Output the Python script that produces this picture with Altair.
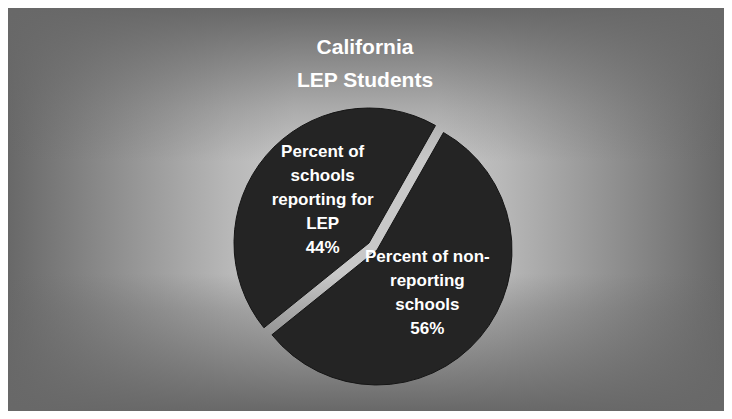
import math
import altair as alt
import pandas as pd

# ---- data ----
categories = ["Percent of non-reporting schools", "Percent of schools reporting for LEP"]
values = [56, 44]
label_lines = [["Percent of non-", "reporting", "schools"],
               ["Percent of", "schools", "reporting for", "LEP"]]
title_lines = ["California", "LEP Students"]

W, H = 716, 403
ROT = math.radians(29.5)
LH = 24

starts, ends = [], []
acc = 0
for v in values:
    starts.append(acc)
    acc += v
    ends.append(acc)

df = pd.DataFrame({
    "category": categories,
    "value": values,
    "start": starts,
    "end": ends,
    "mid": [(s + e) / 2 for s, e in zip(starts, ends)],
    "label": ["\n".join(l + [f"{v}%"]) for l, v in zip(label_lines, values)],
    "nlines": [len(l) + 1 for l in label_lines],
})

theta_scale = alt.Scale(domain=[0, 100], range=[ROT, ROT + 2 * math.pi])

# ---- background (box-like grey gradient) ----
bg_data = pd.DataFrame({"k": [0]})
h_grad = alt.Gradient(
    gradient="linear", x1=0, x2=1, y1=0, y2=0,
    stops=[
        alt.GradientStop(offset=0.0, color="#686868"),
        alt.GradientStop(offset=0.31, color="#b8b8b8"),
        alt.GradientStop(offset=0.4, color="#c8c8c8"),
        alt.GradientStop(offset=0.6, color="#c8c8c8"),
        alt.GradientStop(offset=0.69, color="#b8b8b8"),
        alt.GradientStop(offset=1.0, color="#686868"),
    ],
)
v_grad = alt.Gradient(
    gradient="linear", x1=0, x2=0, y1=0, y2=1,
    stops=[
        alt.GradientStop(offset=0.0, color="rgba(104,104,104,1)"),
        alt.GradientStop(offset=0.25, color="rgba(104,104,104,0.3)"),
        alt.GradientStop(offset=0.38, color="rgba(104,104,104,0)"),
        alt.GradientStop(offset=0.66, color="rgba(104,104,104,0)"),
        alt.GradientStop(offset=0.75, color="rgba(104,104,104,0.33)"),
        alt.GradientStop(offset=1.0, color="rgba(104,104,104,1)"),
    ],
)
bg1 = alt.Chart(bg_data).mark_rect(color=h_grad).encode(
    x=alt.value(0), x2=alt.value(W), y=alt.value(0), y2=alt.value(H))
bg2 = alt.Chart(bg_data).mark_rect(color=v_grad).encode(
    x=alt.value(0), x2=alt.value(W), y=alt.value(0), y2=alt.value(H))

# ---- pie slices (second slice exploded up-left) ----
centers = {categories[0]: (369, 242), categories[1]: (361, 235)}
label_dx = {categories[0]: 0, categories[1]: 4}

layers = [bg1, bg2]
for cat, n in zip(categories, df["nlines"]):
    cx, cy = centers[cat]
    base = alt.Chart(df).transform_filter(alt.datum.category == cat)
    arc = base.mark_arc(radius=135, fill="#242424", stroke="#151515", strokeWidth=1).encode(
        theta=alt.Theta("start:Q", scale=theta_scale),
        theta2="end:Q",
        x=alt.value(cx), y=alt.value(cy),
    )
    txt = base.mark_text(
        radius=66, font="Liberation Sans", fontWeight="bold", fontSize=17,
        lineHeight=LH, color="white", lineBreak="\n", align="center", baseline="middle",
        dy=-(int(n) - 1) * LH / 2, dx=label_dx[cat],
    ).encode(
        theta=alt.Theta("mid:Q", scale=theta_scale),
        text="label:N",
        x=alt.value(cx), y=alt.value(cy),
    )
    layers += [arc, txt]

title_df = pd.DataFrame({"t": ["\n".join(title_lines)]})
title = alt.Chart(title_df).mark_text(
    font="Liberation Sans", fontWeight="bold", fontSize=21, lineHeight=33,
    color="white", lineBreak="\n", align="center", baseline="middle",
).encode(text="t:N", x=alt.value(357), y=alt.value(40))
layers.append(title)

chart = alt.layer(*layers).properties(
    width=W, height=H, padding=0, autosize=alt.AutoSizeParams(type="none"),
    background="white",
).configure_view(stroke=None)

chart.save("out.html", embed_options={"renderer": "svg", "actions": False})
